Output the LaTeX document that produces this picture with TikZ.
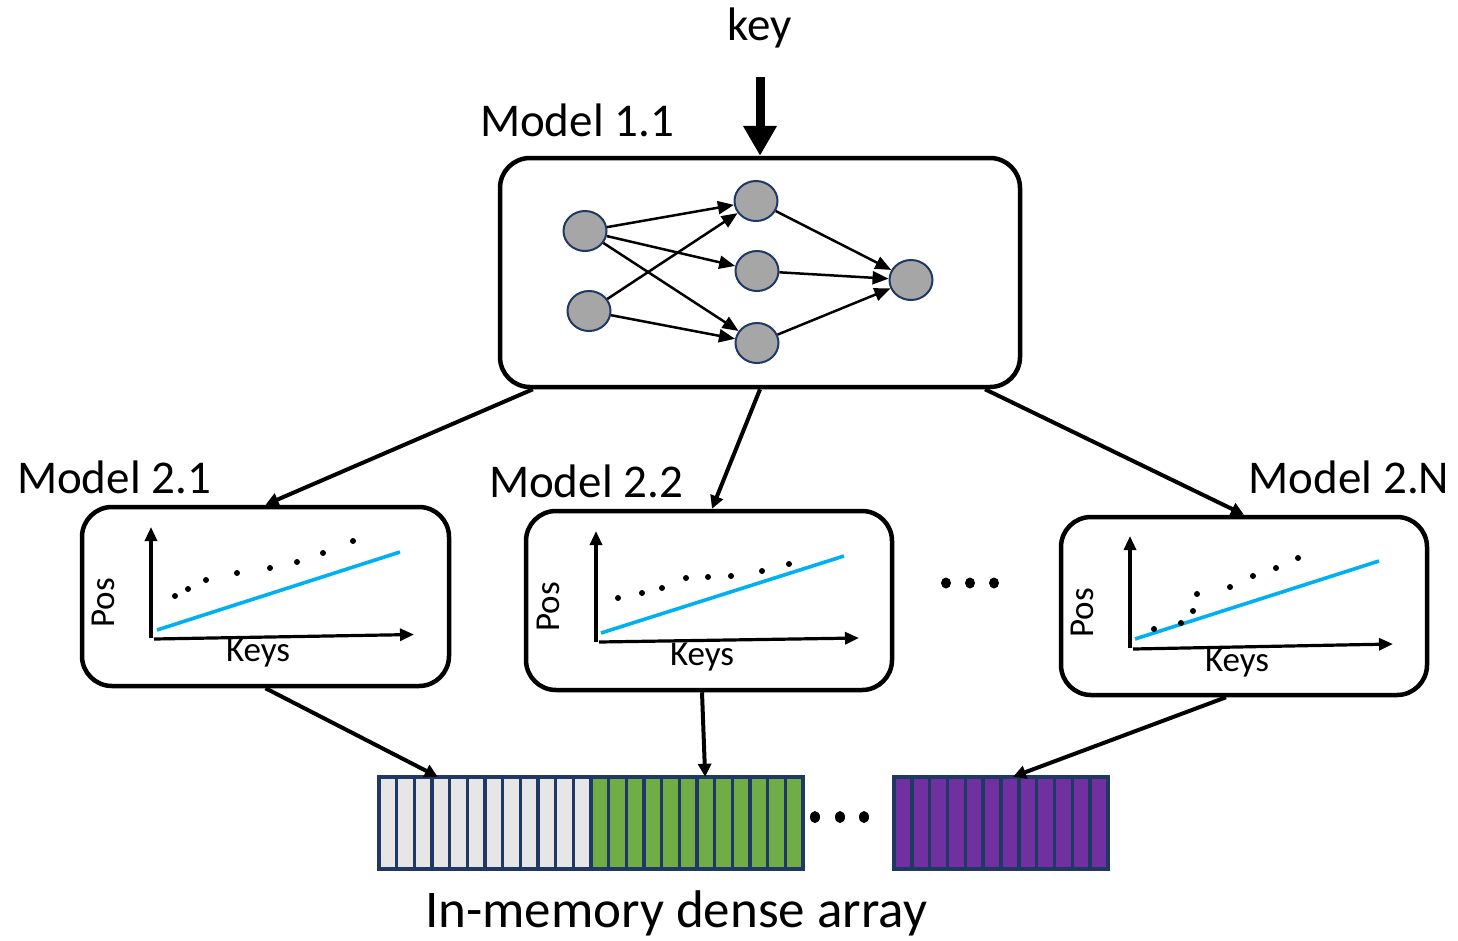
\documentclass[tikz,border=0pt]{standalone}
\usepackage{fontspec}
\setmainfont{Carlito}
\usetikzlibrary{arrows.meta,shapes.geometric,calc}
\definecolor{navy}{HTML}{1F3864}
\definecolor{nngray}{HTML}{A6A6A6}
\definecolor{cellgray}{HTML}{E7E6E6}
\definecolor{cellgreen}{HTML}{70AD47}
\definecolor{cellpurple}{HTML}{7030A0}
\definecolor{fitblue}{HTML}{00B0F0}
\tikzset{
  mbox/.style={draw=black, line width=4.5pt, rounded corners=30pt, fill=white, inner sep=0pt},
  bigtxt/.style={font=\fontsize{47}{56}\selectfont, inner sep=0pt},
  smalltxt/.style={font=\fontsize{35}{42}\selectfont, inner sep=0pt},
  neuron/.style={ellipse, draw=navy, fill=nngray, line width=2pt, minimum width=43pt, minimum height=40pt, inner sep=0pt},
  nnedge/.style={line width=2.5pt, -{Triangle[length=16pt,width=13pt]}},
  conn/.style={line width=4pt, -{Triangle[length=13pt,width=13pt]}},
  axis/.style={line width=3.2pt, -{Triangle[length=14pt,width=12pt]}},
  fitline/.style={fitblue, line width=3.6pt},
  cell/.style={draw=navy, line width=3.5pt},
  bigdot/.style={fill=black},
}
\begin{document}
\begin{tikzpicture}[x=1pt,y=-1pt]
\useasboundingbox (0,0) rectangle (1458,940);

% key
\node[bigtxt] (key) at (760,28) {key};
\coordinate (keytail) at (760,77);

% top model
\node[mbox, minimum width=520pt, minimum height=229pt] (m11) at (760,272.5) {};
\node[bigtxt] (l11) at (577,120) {Model 1.1};
\draw[line width=9pt, -{Triangle[length=30pt,width=32pt]}] (keytail) -- (m11.north);

% neural net
\node[neuron] (A) at (585,231) {};
\node[neuron] (B) at (589,311) {};
\node[neuron] (C) at (756,201) {};
\node[neuron] (D) at (757,271) {};
\node[neuron] (E) at (757,343) {};
\node[neuron] (F) at (911,280) {};
\draw[nnedge] (A) -- (C);
\draw[nnedge] (A) -- (D);
\draw[nnedge] (A) -- (E);
\draw[nnedge] (B) -- (C);
\draw[nnedge] (B) -- (E);
\draw[nnedge] (C) -- (F);
\draw[nnedge] (D) -- (F);
\draw[nnedge] (E) -- (F);

% second level boxes
\node[mbox, minimum width=367pt, minimum height=179pt] (m21) at (265.5,596.5) {};
\node[mbox, minimum width=366pt, minimum height=179pt] (m22) at (709,600.5) {};
\node[mbox, minimum width=366pt, minimum height=178pt] (m2N) at (1244,606) {};
\node[bigtxt] (l21) at (114,477) {Model 2.1};
\node[bigtxt] (l22) at (586,481) {Model 2.2};
\node[bigtxt] (l2N) at (1349,477) {Model 2.N};

% connectors top -> second level
\draw[conn] ($(m11.south west)!0.067!(m11.south east)$) -- (m21.north);
\draw[conn] (m11.south) -- ($(m22.north)+(3,0)$);
\draw[conn] ($(m11.south west)!0.929!(m11.south east)$) -- (m2N.north);

% chart 2.1
\draw[axis] (151,638) -- (151,527);
\draw[axis] (154,639) -- (414,634.5);
\draw[fitline] (157,630) -- (400,552);
\foreach \p in {(175,596),(188,589),(206,580),(237,573),(270,568),(297,562),(323,553),(353,541)}
  \fill[bigdot] \p circle (3pt);
\node[smalltxt, rotate=90] (pos1) at (103,603) {Pos};
\node[smalltxt] (keys1) at (258,653) {Keys};

% chart 2.2
\draw[axis] (596,642) -- (596,531);
\draw[axis] (599,642) -- (859,638);
\draw[fitline] (601,633) -- (844,556);
\foreach \p in {(618,598),(642,593),(662,588),(686,578),(708,577),(731,576),(762,571),(789,564)}
  \fill[bigdot] \p circle (3pt);
\node[smalltxt, rotate=90] (pos2) at (548,607) {Pos};
\node[smalltxt] (keys2) at (702,657) {Keys};

% chart 2.N
\draw[axis] (1130,648) -- (1130,536);
\draw[axis] (1133,649) -- (1393,644);
\draw[fitline] (1135,639) -- (1379,561);
\foreach \p in {(1154,629),(1181,623),(1193,611),(1197,594),(1230,587),(1253,576),(1276,568),(1298,558)}
  \fill[bigdot] \p circle (3pt);
\node[smalltxt, rotate=90] (pos3) at (1082,613) {Pos};
\node[smalltxt] (keys3) at (1237,663) {Keys};

% dots between boxes
\foreach \x in {946,970,994}
  \fill[bigdot] (\x,583) ellipse (5pt and 5.5pt);

% array
\node[inner sep=0pt, minimum width=424pt, minimum height=92pt] (arr1) at (591,823) {};
\node[inner sep=0pt, minimum width=214pt, minimum height=92pt] (arr2) at (1001,823) {};
\foreach \i in {0,...,11}
  \draw[cell, fill=cellgray] ({379+\i*17.667},777) rectangle ({379+(\i+1)*17.667},869);
\foreach \i in {12,...,23}
  \draw[cell, fill=cellgreen] ({379+\i*17.667},777) rectangle ({379+(\i+1)*17.667},869);
\foreach \i in {0,...,11}
  \draw[cell, fill=cellpurple] ({894+\i*17.833},777) rectangle ({894+(\i+1)*17.833},869);
\foreach \x in {815,840,864}
  \fill[bigdot] (\x,817) ellipse (5pt and 6pt);
\node[font=\fontsize{53}{62}\selectfont, inner sep=0pt] (arrlabel) at (676,913) {In-memory dense array};

% connectors second level -> array
\draw[conn] (m21.south) -- ($(arr1.north west)!0.139!(arr1.north east)$);
\draw[conn] ($(m22.south)+(-7,0)$) -- ($(arr1.north west)!0.769!(arr1.north east)$);
\draw[conn] ($(m2N.south)+(-18,0)$) -- ($(arr2.north west)!0.556!(arr2.north east)$);
\end{tikzpicture}
\end{document}
